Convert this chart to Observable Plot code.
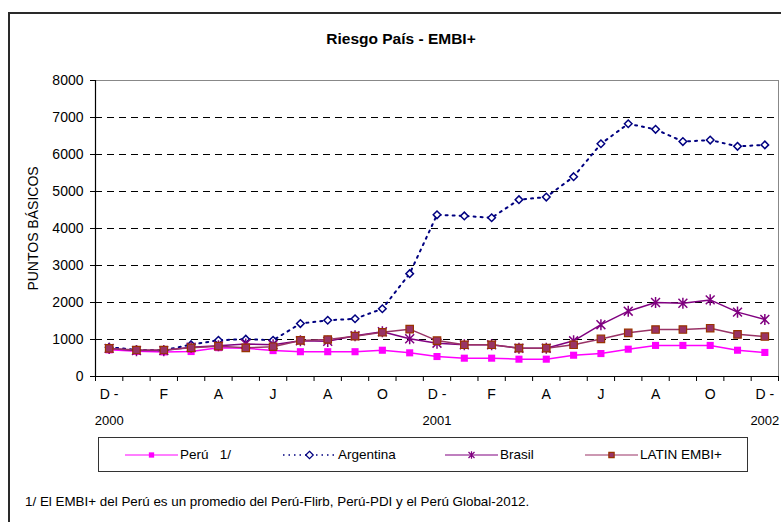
<!DOCTYPE html>
<html><head><meta charset="utf-8">
<script src="https://cdn.jsdelivr.net/npm/d3@7"></script>
<script src="https://cdn.jsdelivr.net/npm/@observablehq/plot@0.6"></script>
<style>
body{margin:0;background:#fff;font-family:"Liberation Sans",Arial,sans-serif;color:#000}
#wrap{position:relative;width:781px;height:522px;overflow:hidden;background:#fff}
#frame{position:absolute;left:8px;top:12px;width:820px;height:560px;border:2px solid #2a2a2a;box-sizing:border-box}
#title{position:absolute;left:0;width:802px;top:31px;text-align:center;font-weight:bold;font-size:15.5px;line-height:1}
#chart{position:absolute;left:0;top:0}
#legend{position:absolute;left:98px;top:437px;width:650px;height:35px;border:1px solid #333;box-sizing:border-box;background:#fff}
.item{position:absolute;top:0;height:33px;display:flex;align-items:center;font-size:13.5px;white-space:pre}
.item svg{display:block;margin-right:2px}
#note{position:absolute;left:25px;top:495px;font-size:13.4px;line-height:1;white-space:nowrap}
</style></head>
<body>
<div id="wrap">
  <div id="frame"></div>
  <div id="title">Riesgo País - EMBI+</div>
  <div id="chart"></div>
  <div id="legend"></div>
  <div id="note">1/ El EMBI+ del Perú es un promedio del Perú-Flirb, Perú-PDI y el Perú Global-2012.</div>
</div>
<script>
// ---- data (monthly, Dec 2000 .. Dec 2002) ----
const monthLabels = ["D -","F","A","J","A","O","D -","F","A","J","A","O","D -"];
const yearLabels = ["2000","2001","2002"];
const yTicks = [0,1000,2000,3000,4000,5000,6000,7000,8000];
const peru      = [720,680,665,675,780,765,700,670,670,670,710,640,540,495,495,468,468,575,620,738,840,840,840,710,650];
const argentina = [790,720,710,860,980,1010,980,1430,1520,1560,1830,2780,4370,4340,4290,4780,4850,5400,6290,6830,6680,6350,6390,6220,6260];
const brasil    = [760,700,700,790,830,880,860,965,950,1100,1210,1020,900,857,857,765,765,965,1400,1765,2000,1980,2070,1740,1540];
const latin     = [760,715,715,775,820,775,805,975,1000,1090,1195,1280,970,857,857,765,765,857,1015,1180,1270,1270,1305,1140,1080];
const seriesNames = ["Perú   1/","Argentina","Brasil","LATIN EMBI+"];

const n = peru.length;
const xDomain = [-0.5, n - 0.5];
const boundaries = d3.range(n + 1).map(i => i - 0.5);
const idx = d3.range(n);

// Excel-like star marker: X plus vertical bar
const star = {draw(ctx, size){ const r = Math.sqrt(size) * 0.5;
  ctx.moveTo(-r,-r); ctx.lineTo(r,r); ctx.moveTo(-r,r); ctx.lineTo(r,-r);
  ctx.moveTo(0,-r*1.25); ctx.lineTo(0,r*1.25); }};

const styles = [
  {name: seriesNames[0], values: peru, stroke:"#FF00FF", sw:1.5, dash:null, symbol:"square", r:4, fill:"#FF00FF", mstroke:"none"},
  {name: seriesNames[1], values: argentina, stroke:"#000080", sw:2, dash:"2,5", symbol:"diamond2", r:3.4, fill:"white", mstroke:"#000080"},
  {name: seriesNames[2], values: brasil, stroke:"#800080", sw:1.5, dash:null, symbol:star, r:5, fill:"none", mstroke:"#800080"},
  {name: seriesNames[3], values: latin, stroke:"#993366", sw:1.5, dash:null, symbol:"square", r:4.2, fill:"#993366", mstroke:"#993300"}
];

const font = '"Liberation Sans", Arial, sans-serif';
const marks = [
  Plot.ruleY(yTicks.filter(v => v > yTicks[0] && v < yTicks[yTicks.length-1]), {stroke:"#000", strokeDasharray:"7,5", strokeWidth:1}),
  Plot.frame({stroke:"#888", strokeWidth:1}),
  Plot.ruleX([xDomain[0]], {stroke:"#000", strokeWidth:1.2}),
  Plot.ruleY([yTicks[0]], {stroke:"#000", strokeWidth:1.2}),
  Plot.axisY({ticks: yTicks, tickSize: 5, tickPadding: 7, tickFormat: d3.format("d"),
    label: "PUNTOS BÁSICOS", labelAnchor: "center", labelArrow: "none", labelOffset: 67, fontSize: 14}),
  Plot.axisX({ticks: boundaries, tickSize: 5, tickFormat: () => ""}),
  Plot.text(monthLabels, {x: (d, i) => i * 2, frameAnchor: "bottom", dy: 22, fontSize: 14}),
  Plot.text(yearLabels, {x: (d, i) => i * 12, frameAnchor: "bottom", dy: 48, fontSize: 13})
];
for (const s of styles) {
  marks.push(Plot.line(idx, {x: i => i, y: i => s.values[i], stroke: s.stroke, strokeWidth: s.sw, strokeDasharray: s.dash, curve: "linear"}));
}
for (const s of styles) {
  marks.push(Plot.dot(idx, {x: i => i, y: i => s.values[i], symbol: s.symbol, r: s.r, fill: s.fill, stroke: s.mstroke, strokeWidth: s.symbol === "square" ? 1.2 : 1.5}));
}

const chart = Plot.plot({
  width: 781, height: 430,
  marginLeft: 95, marginRight: 3, marginTop: 80, marginBottom: 54,
  x: {domain: xDomain, axis: null},
  y: {domain: [yTicks[0], yTicks[yTicks.length-1]], axis: null},
  style: {fontFamily: font, fontSize: "14px", color: "#000", background: "transparent", overflow: "visible"},
  marks
});
document.getElementById("chart").appendChild(chart);

// ---- legend ----
const legendX = [26, 184, 346, 486];
const legend = document.getElementById("legend");
styles.forEach((s, k) => {
  const div = document.createElement("div");
  div.className = "item";
  div.style.left = legendX[k] + "px";
  const svg = d3.create("svg").attr("width", 53).attr("height", 14);
  svg.append("line").attr("x1", 0).attr("x2", 53).attr("y1", 7).attr("y2", 7)
    .attr("stroke", s.stroke).attr("stroke-width", s.sw === 2 ? 1.5 : 1.2).attr("stroke-dasharray", s.dash ? "1.5,4" : null);
  const symObj = typeof s.symbol === "string" ? ({square: d3.symbolSquare, diamond2: d3.symbolDiamond2})[s.symbol] : s.symbol;
  svg.append("path").attr("transform", "translate(26.5,7)")
    .attr("d", d3.symbol(symObj, s.symbol === "square" ? 28 : 36)())
    .attr("fill", s.fill).attr("stroke", s.mstroke).attr("stroke-width", 1.2);
  div.appendChild(svg.node());
  const t = document.createElement("span");
  t.textContent = s.name;
  div.appendChild(t);
  legend.appendChild(div);
});
</script>
</body></html>
